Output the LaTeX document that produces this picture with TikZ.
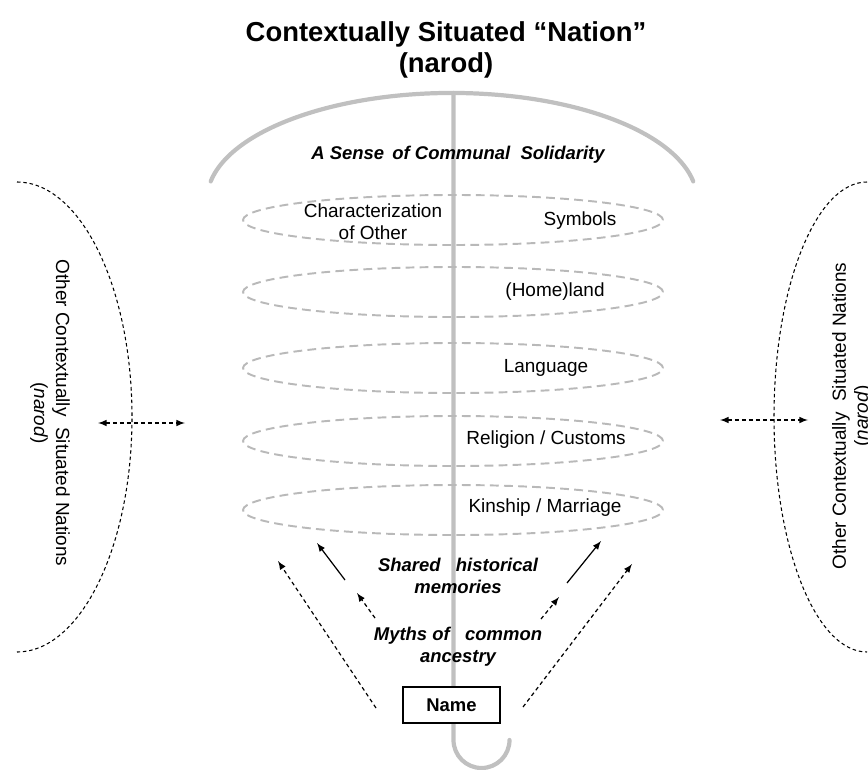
\documentclass[tikz,border=0pt]{standalone}
\usepackage{fontspec}
\setmainfont{Liberation Sans}
\usepackage{tikz}
\usetikzlibrary{positioning,shapes.geometric}

\definecolor{polegray}{RGB}{192,192,192}
\definecolor{ringgray}{RGB}{185,185,185}

\tikzset{
  pole/.style={line width=2.4pt, color=polegray, line cap=round},
  ring/.style={draw=ringgray, line width=1.1pt, dash pattern=on 5pt off 3pt,
    ellipse, minimum width=8.4cm, minimum height=1cm, inner sep=0pt},
  plaintext/.style={font=\fontsize{10.8}{12.5}\selectfont, align=center, inner sep=1pt},
  boldit/.style={font=\fontsize{10.5}{12.5}\selectfont\bfseries\itshape, align=center, inner sep=1pt},
  fine dash/.style={dash pattern=on 2pt off 1.6pt, line width=0.6pt},
  arrow dash/.style={dash pattern=on 2.2pt off 1.8pt, line width=0.7pt, -latex},
}

\begin{document}
\begin{tikzpicture}
    \useasboundingbox (0,0) rectangle (17.36,15.38);

    % title
    \node[font=\fontsize{15.6}{17.5}\selectfont\bfseries, align=center] (title) at (8.92,14.38)
        {Contextually Situated “Nation”\\(narod)};

    % umbrella: canopy, pole and hook
    \draw[pole] (4.214,11.752) arc[start angle=170, end angle=10, x radius=4.9cm, y radius=2.14cm];
    \draw[pole] (9.07,13.52) -- (9.07,0.58) arc[start angle=180, end angle=360, radius=0.56cm];

    \node[boldit] (solidarity) at (9.16,12.28) {A Sense \,of Communal \ Solidarity};

    % dashed rings
    \node[ring] (ring1) at (9.06,10.98) {};
    \node[ring] (ring2) at (9.06,9.54) {};
    \node[ring] (ring3) at (9.06,8.02) {};
    \node[ring] (ring4) at (9.06,6.56) {};
    \node[ring] (ring5) at (9.06,5.18) {};

    \node[plaintext] (other) at (7.46,10.95) {Characterization\\of Other};
    \node[plaintext] (symbols) at (11.6,10.96) {Symbols};
    \node[plaintext] (land) at (11.1,9.54) {(Home)land};
    \node[plaintext] (language) at (10.92,8.02) {Language};
    \node[plaintext] (religion) at (10.92,6.58) {Religion / Customs};
    \node[plaintext] (kinship) at (10.9,5.22) {Kinship / Marriage};

    % roots of the nation
    \node[boldit] (memories) at (9.16,3.86) {Shared \ \ historical\\memories};
    \node[boldit] (myths) at (9.16,2.44) {Myths of \ \ common\\ancestry};
    \node[draw, fill=white, line width=0.7pt, minimum width=1.94cm, minimum height=0.72cm,
        font=\fontsize{10.5}{12.5}\selectfont\bfseries] (name) at (9.03,1.28) {Name};

    \coordinate (lo1) at (7.52,1.22);  \coordinate (lo2) at (5.56,4.16);
    \coordinate (ls1) at (6.9,3.78);   \coordinate (ls2) at (6.34,4.52);
    \coordinate (li1) at (7.5,3.02);   \coordinate (li2) at (7.14,3.52);
    \coordinate (ri1) at (10.82,3.0);  \coordinate (ri2) at (11.18,3.44);
    \coordinate (rs1) at (11.34,3.72); \coordinate (rs2) at (12.02,4.56);
    \coordinate (ro1) at (10.46,1.24); \coordinate (ro2) at (12.64,4.10);

    \draw[arrow dash] (lo1) -- (lo2);
    \draw[arrow dash] (ro1) -- (ro2);
    \draw[arrow dash] (li1) -- (li2);
    \draw[arrow dash] (ri1) -- (ri2);
    \draw[line width=0.7pt, -latex] (ls1) -- (ls2);
    \draw[line width=0.7pt, -latex] (rs1) -- (rs2);

    % neighbouring nations
    \draw[fine dash] (0.34,11.74) arc[start angle=90, end angle=-90, x radius=2.3cm, y radius=4.7cm];
    \draw[fine dash] (17.34,11.74) arc[start angle=90, end angle=270, x radius=1.86cm, y radius=4.7cm];

    \node[plaintext, rotate=-90] (leftnations) at (1.0,7.12)
        {Other Contextually \ Situated Nations\\(\textit{narod})};
    \node[plaintext, rotate=90] (rightnations) at (17.04,7.06)
        {Other Contextually \ Situated Nations\\(\textit{narod})};

    \coordinate (la1) at (1.96,6.92);  \coordinate (la2) at (3.7,6.92);
    \coordinate (ra1) at (14.4,6.98);  \coordinate (ra2) at (16.16,6.98);
    \draw[arrow dash, latex-latex] (la1) -- (la2);
    \draw[arrow dash, latex-latex] (ra1) -- (ra2);
\end{tikzpicture}
\end{document}
